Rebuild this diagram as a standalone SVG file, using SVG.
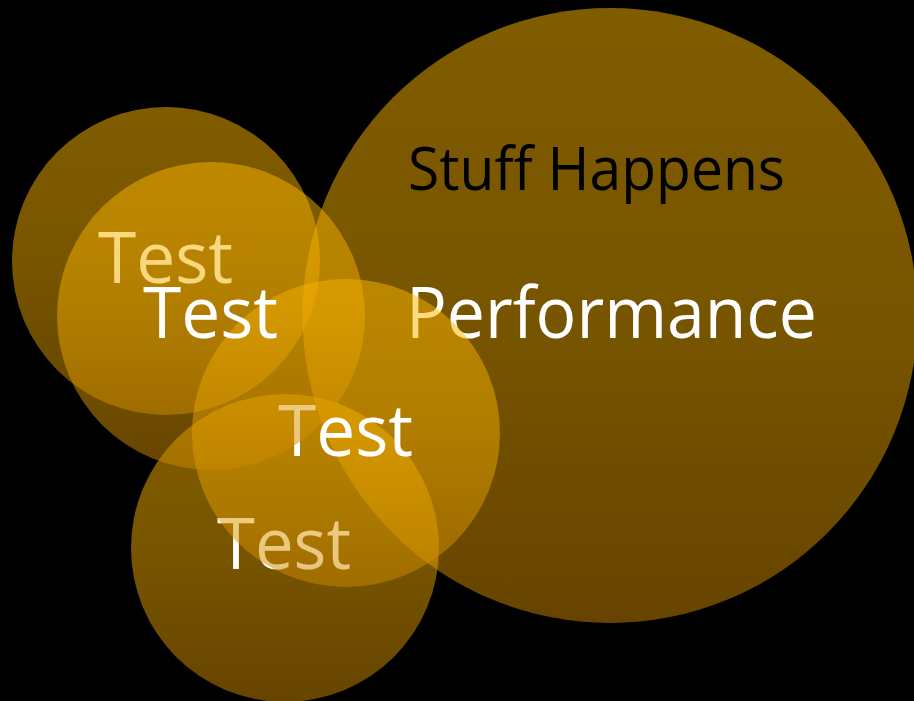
<svg xmlns="http://www.w3.org/2000/svg" width="914" height="701" viewBox="0 0 914 701">
  <defs>
    <!-- amber fill, lighter at the top of each bubble -->
    <linearGradient id="amber" x1="0" y1="0" x2="0" y2="1">
      <stop offset="0" stop-color="#FFB800"/>
      <stop offset="0.5" stop-color="#EEAA00"/>
      <stop offset="1" stop-color="#CC8800"/>
    </linearGradient>
  </defs>
  <style>
    .bubble { fill: url(#amber); fill-opacity: 0.5; }
    .label { font-family: "Open Sans", "Liberation Sans", sans-serif; font-size: 72px; fill: #FFFFFF; }
    .title { font-family: "Open Sans", "Liberation Sans", sans-serif; font-size: 60px; fill: #000000; }
  </style>

  <rect width="914" height="701" fill="#000000"/>

  <!-- large bubble -->
  <g id="performance">
    <circle class="bubble" cx="610" cy="315.5" r="307.5"/>
    <text class="title" x="408" y="190" textLength="377" lengthAdjust="spacingAndGlyphs">Stuff Happens</text>
    <text class="label" x="406" y="338" textLength="411" lengthAdjust="spacingAndGlyphs">Performance</text>
  </g>

  <!-- small bubbles, drawn back to front -->
  <g id="test-1">
    <circle class="bubble" cx="166" cy="261" r="154"/>
    <text class="label" x="98" y="283" textLength="135" lengthAdjust="spacingAndGlyphs">Test</text>
  </g>

  <g id="test-4">
    <circle class="bubble" cx="285" cy="548" r="154"/>
    <text class="label" x="217" y="569" textLength="134" lengthAdjust="spacingAndGlyphs">Test</text>
  </g>

  <g id="test-3">
    <circle class="bubble" cx="346" cy="433" r="154"/>
    <text class="label" x="278" y="456" textLength="135" lengthAdjust="spacingAndGlyphs">Test</text>
  </g>

  <g id="test-2">
    <circle class="bubble" cx="211" cy="316" r="154"/>
    <text class="label" x="143" y="338" textLength="135" lengthAdjust="spacingAndGlyphs">Test</text>
  </g>
</svg>
